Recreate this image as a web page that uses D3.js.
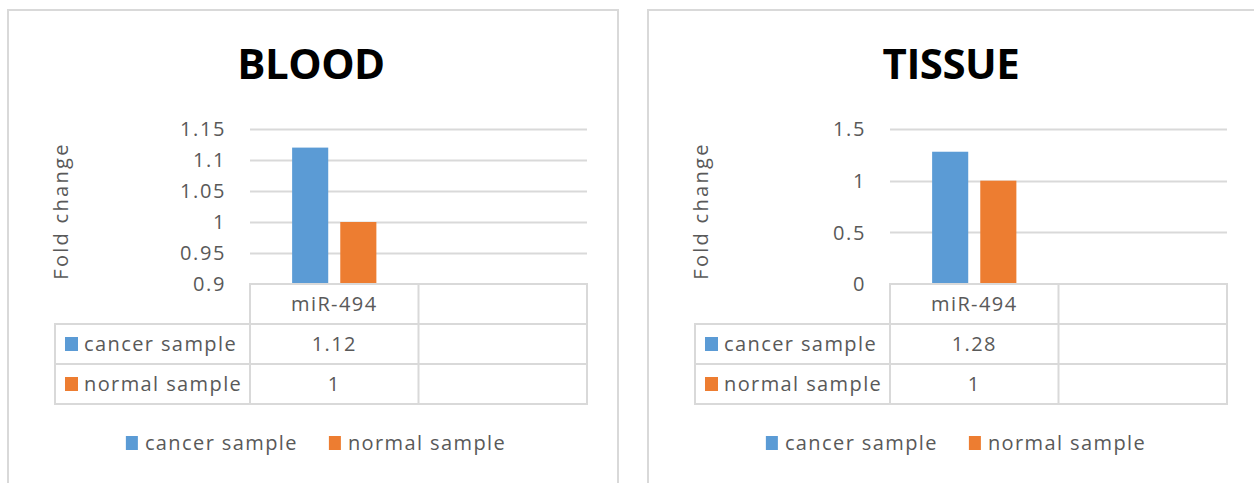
<!DOCTYPE html>
<html>
<head>
<meta charset="utf-8">
<script src="https://cdn.jsdelivr.net/npm/d3@7"></script>
<style>
    body { margin: 0; background: #fff; }
    svg { display: block; }
    .tick-label, .cell-text, .legend-text, .axis-title {
        font-family: "Open Sans", sans-serif;
        fill: #595959;
        letter-spacing: 1.4px;
    }
    .chart-title {
        font-family: "Open Sans", sans-serif;
        font-weight: 700;
        fill: #000;
    }
</style>
</head>
<body>
<svg width="1254" height="483"></svg>
<script>
// ---- data ----
var categories = ["miR-494", ""];
var seriesNames = ["cancer sample", "normal sample"];
var seriesColors = ["#5b9bd5", "#ed7d31"];

var panelTitles = ["BLOOD", "TISSUE"];
var bloodValues = [1.12, 1];     // cancer, normal for miR-494
var tissueValues = [1.28, 1];
var bloodTicks = [0.9, 0.95, 1, 1.05, 1.1, 1.15];
var tissueTicks = [0, 0.5, 1, 1.5];
var bloodTickLabels = ["0.9", "0.95", "1", "1.05", "1.1", "1.15"];
var tissueTickLabels = ["0", "0.5", "1", "1.5"];

var svg = d3.select("svg");

var panels = [
    { x: 8, title: panelTitles[0], values: bloodValues, ticks: bloodTicks, labels: bloodTickLabels },
    { x: 648, title: panelTitles[1], values: tissueValues, ticks: tissueTicks, labels: tissueTickLabels }
];

panels.forEach(function (p) {
    drawPanel(p);
});

function drawPanel(p) {
    var g = svg.append("g").attr("transform", "translate(" + p.x + ",0)");
    var panelW = 610;

    // frame
    g.append("rect")
        .attr("x", 0).attr("y", 10)
        .attr("width", panelW).attr("height", 500)
        .attr("fill", "#fff")
        .attr("stroke", "#d9d9d9")
        .attr("stroke-width", 2);

    g.append("text")
        .attr("class", "chart-title")
        .attr("x", panelW / 2 - 2)
        .attr("y", 79)
        .attr("text-anchor", "middle")
        .style("font-size", "42px")
        .style("letter-spacing", "-0.5px")
        .text(p.title);

    var plotLeft = 242, plotRight = 579, plotTop = 129, plotBottom = 284;

    var y = d3.scaleLinear()
        .domain([p.ticks[0], p.ticks[p.ticks.length - 1]])
        .range([plotBottom, plotTop]);

    var x = d3.scaleBand()
        .domain(categories)
        .range([plotLeft, plotRight])
        .padding(0);

    var x1 = d3.scaleBand()
        .domain(seriesNames)
        .range([0, x.bandwidth()])
        .paddingInner(0.25)
        .paddingOuter(0.875);

    // gridlines
    g.append("g").selectAll("line")
        .data(p.ticks.slice(1))
        .join("line")
        .attr("x1", plotLeft).attr("x2", plotRight)
        .attr("y1", function (d) { return Math.round(y(d)) + 0.5; })
        .attr("y2", function (d) { return Math.round(y(d)) + 0.5; })
        .attr("stroke", "#d9d9d9")
        .attr("stroke-width", 2);

    // tick labels
    g.append("g").selectAll("text")
        .data(p.ticks)
        .join("text")
        .attr("class", "tick-label")
        .attr("x", plotLeft - 24)
        .attr("y", function (d) { return y(d); })
        .attr("dy", "0.36em")
        .attr("text-anchor", "end")
        .style("font-size", "20px")
        .style("letter-spacing", "1.6px")
        .text(function (d, i) { return p.labels[i]; });

    // axis title
    g.append("text")
        .attr("class", "axis-title")
        .attr("transform", "translate(" + (plotLeft - 182) + "," + 211 + ") rotate(-90)")
        .attr("text-anchor", "middle")
        .style("font-size", "20px")
        .style("letter-spacing", "2.3px")
        .text("Fold change");

    // bars
    g.append("g").selectAll("rect")
        .data(p.values)
        .join("rect")
        .attr("x", function (d, i) { return x(categories[0]) + x1(seriesNames[i]); })
        .attr("width", x1.bandwidth())
        .attr("y", function (d) { return y(d); })
        .attr("height", function (d) { return y(p.ticks[0]) - y(d); })
        .attr("fill", function (d, i) { return seriesColors[i]; });

    // data table
    var rowH = 40;
    var tableLeft = plotLeft - 195;
    var lineColor = "#d9d9d9";
    var tg = g.append("g");

    // header row (only over plot area)
    tg.append("rect")
        .attr("x", plotLeft).attr("y", plotBottom)
        .attr("width", plotRight - plotLeft).attr("height", rowH)
        .attr("fill", "none").attr("stroke", lineColor).attr("stroke-width", 2);
    // series rows
    tg.selectAll("rect.row")
        .data(seriesNames)
        .join("rect")
        .attr("class", "row")
        .attr("x", tableLeft)
        .attr("y", function (d, i) { return plotBottom + rowH * (i + 1); })
        .attr("width", plotRight - tableLeft).attr("height", rowH)
        .attr("fill", "none").attr("stroke", lineColor).attr("stroke-width", 2);
    // vertical dividers
    tg.append("line")
        .attr("x1", plotLeft).attr("x2", plotLeft)
        .attr("y1", plotBottom + rowH).attr("y2", plotBottom + rowH * 3)
        .attr("stroke", lineColor).attr("stroke-width", 2);
    tg.append("line")
        .attr("x1", x(categories[1])).attr("x2", x(categories[1]))
        .attr("y1", plotBottom).attr("y2", plotBottom + rowH * 3)
        .attr("stroke", lineColor).attr("stroke-width", 2);

    // header text
    tg.selectAll("text.head")
        .data(categories)
        .join("text")
        .attr("class", "cell-text head")
        .attr("x", function (d) { return x(d) + x.bandwidth() / 2; })
        .attr("y", plotBottom + rowH / 2)
        .attr("dy", "0.36em")
        .attr("text-anchor", "middle")
        .style("font-size", "20px")
        .text(function (d) { return d; });

    // row labels with keys
    seriesNames.forEach(function (s, i) {
        var cy = plotBottom + rowH * (i + 1) + rowH / 2;
        tg.append("rect")
            .attr("x", tableLeft + 10).attr("y", cy - 7)
            .attr("width", 13).attr("height", 14)
            .attr("fill", seriesColors[i]);
        tg.append("text")
            .attr("class", "cell-text")
            .attr("x", tableLeft + 29).attr("y", cy)
            .attr("dy", "0.36em")
            .style("font-size", "20px")
            .text(s);
        tg.append("text")
            .attr("class", "cell-text")
            .attr("x", x(categories[0]) + x.bandwidth() / 2).attr("y", cy)
            .attr("dy", "0.36em")
            .attr("text-anchor", "middle")
            .style("font-size", "20px")
            .text(d3.format("~g")(p.values[i]));
    });

    // legend
    var lg = g.append("g");
    var items = lg.selectAll("g")
        .data(seriesNames)
        .join("g");
    items.append("rect")
        .attr("y", 436)
        .attr("width", 12).attr("height", 14)
        .attr("fill", function (d, i) { return seriesColors[i]; });
    items.append("text")
        .attr("class", "legend-text")
        .attr("x", 19).attr("y", 443)
        .attr("dy", "0.36em")
        .style("font-size", "20px")
        .text(function (d) { return d; });
    var cursor = 0;
    items.each(function () {
        var w = this.getBBox().width;
        d3.select(this).attr("transform", "translate(" + cursor + ",0)");
        cursor += w + 31;
    });
    cursor -= 31;
    lg.attr("transform", "translate(" + (panelW / 2 + 3 - cursor / 2) + ",0)");
}
</script>
</body>
</html>
